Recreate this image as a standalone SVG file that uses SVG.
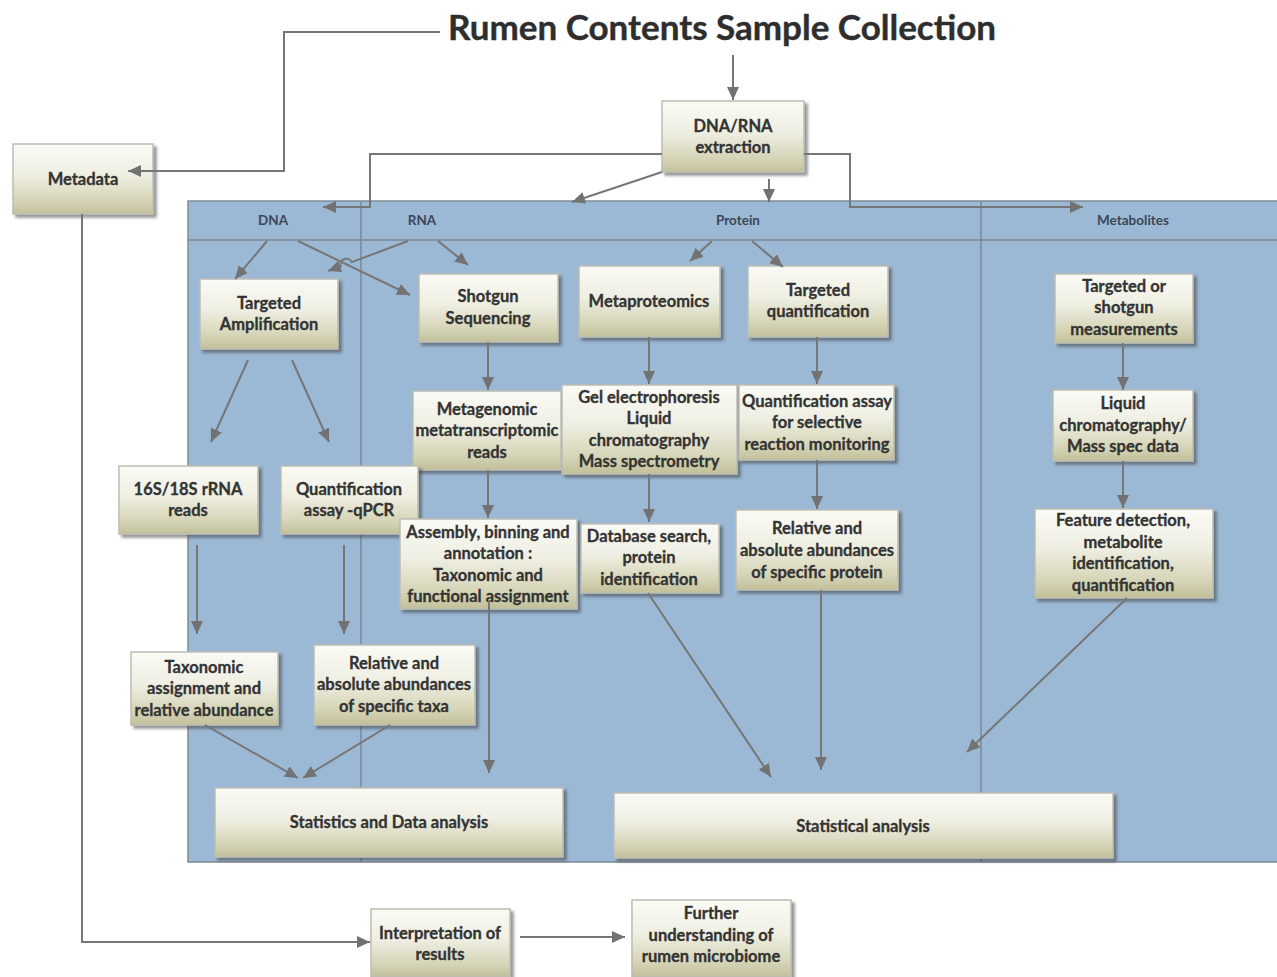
<svg xmlns="http://www.w3.org/2000/svg" width="1277" height="977" viewBox="0 0 1277 977">
  <defs>
    <linearGradient id="boxFill" x1="0" y1="0" x2="0" y2="1">
      <stop offset="0" stop-color="#fbfbf6"/>
      <stop offset="0.45" stop-color="#eeeee2"/>
      <stop offset="0.8" stop-color="#d6d5b8"/>
      <stop offset="1" stop-color="#c2c09a"/>
    </linearGradient>
    <filter id="shadow" x="-10%" y="-10%" width="125%" height="135%">
      <feDropShadow dx="3" dy="3" stdDeviation="1.8" flood-color="#3a3a3a" flood-opacity="0.55"/>
    </filter>
    <marker id="arrow" markerUnits="userSpaceOnUse" markerWidth="14" markerHeight="12" refX="13" refY="6" orient="auto">
      <path d="M0,0 L13,6 L0,12 z" fill="#727272"/>
    </marker>
  </defs>
  <style>
    .box { fill: url(#boxFill); stroke: #bdbdb4; stroke-width: 1.5; filter: url(#shadow); }
    .label { font-family: Lato, "Open Sans", sans-serif; font-weight: bold; font-size: 16.5px; fill: #333333; stroke: #333333; stroke-width: 0.3; text-anchor: middle; }
    .lane { font-family: Lato, "Open Sans", sans-serif; font-weight: bold; font-size: 13.5px; fill: #3b4756; text-anchor: middle; }
    .title { font-family: Lato, "Open Sans", sans-serif; font-weight: bold; font-size: 35px; fill: #2e2e2e; stroke: #2e2e2e; stroke-width: 0.4; text-anchor: middle; }
    .conn { fill: none; stroke: #767676; stroke-width: 2; }
    .arr { marker-end: url(#arrow); }
    .grid { stroke: #7c8894; stroke-width: 1.5; fill: none; }
  </style>

  <rect width="1277" height="977" fill="#ffffff"/>

  <!-- Title -->
  <text class="title" x="722" y="40">Rumen Contents Sample Collection</text>

  <!-- Omics lanes -->
  <g id="lanes">
    <rect x="188" y="201" width="1090" height="661" fill="#9bb8d4" stroke="#7f8a96" stroke-width="1.5"/>
    <line class="grid" x1="188" y1="240" x2="1277" y2="240"/>
    <line class="grid" x1="361" y1="201" x2="361" y2="862"/>
    <line class="grid" x1="981" y1="201" x2="981" y2="862"/>
    <text class="lane" x="273" y="225">DNA</text>
    <text class="lane" x="422" y="225">RNA</text>
    <text class="lane" x="738" y="225">Protein</text>
    <text class="lane" x="1133" y="225">Metabolites</text>
  </g>

  <!-- Nodes -->
  <g id="metadata">
    <rect class="box" x="13" y="144" width="140" height="70"/>
    <text class="label" x="83" y="185">Metadata</text>
  </g>
  <g id="extraction">
    <rect class="box" x="662" y="101" width="142" height="71"/>
    <text class="label" x="733" y="132">DNA/RNA</text>
    <text class="label" x="733" y="153">extraction</text>
  </g>
  <g id="targeted-amplification">
    <rect class="box" x="200" y="279" width="138" height="70"/>
    <text class="label" x="269" y="309">Targeted</text>
    <text class="label" x="269" y="330">Amplification</text>
  </g>
  <g id="shotgun-sequencing">
    <rect class="box" x="419" y="274" width="139" height="68"/>
    <text class="label" x="488" y="302">Shotgun</text>
    <text class="label" x="488" y="324">Sequencing</text>
  </g>
  <g id="metaproteomics">
    <rect class="box" x="579" y="266" width="141" height="71"/>
    <text class="label" x="649" y="307">Metaproteomics</text>
  </g>
  <g id="targeted-quantification">
    <rect class="box" x="748" y="266" width="140" height="71"/>
    <text class="label" x="818" y="296">Targeted</text>
    <text class="label" x="818" y="317">quantification</text>
  </g>
  <g id="metabolite-measurements">
    <rect class="box" x="1055" y="274" width="138" height="69"/>
    <text class="label" x="1124" y="292">Targeted or</text>
    <text class="label" x="1124" y="313">shotgun</text>
    <text class="label" x="1124" y="335">measurements</text>
  </g>
  <g id="sequence-reads">
    <rect class="box" x="413" y="391" width="148" height="79"/>
    <text class="label" x="487" y="415">Metagenomic</text>
    <text class="label" x="487" y="436">metatranscriptomic</text>
    <text class="label" x="487" y="458">reads</text>
  </g>
  <g id="protein-separation">
    <rect class="box" x="562" y="385" width="175" height="89"/>
    <text class="label" x="649" y="403">Gel electrophoresis</text>
    <text class="label" x="649" y="424">Liquid</text>
    <text class="label" x="649" y="446">chromatography</text>
    <text class="label" x="649" y="467">Mass spectrometry</text>
  </g>
  <g id="srm-assay">
    <rect class="box" x="739" y="385" width="155" height="75"/>
    <text class="label" x="817" y="407">Quantification assay</text>
    <text class="label" x="817" y="428">for selective</text>
    <text class="label" x="817" y="450">reaction monitoring</text>
  </g>
  <g id="lc-ms-data">
    <rect class="box" x="1053" y="390" width="140" height="71"/>
    <text class="label" x="1123" y="409">Liquid</text>
    <text class="label" x="1123" y="431">chromatography/</text>
    <text class="label" x="1123" y="452">Mass spec data</text>
  </g>
  <g id="rrna-reads">
    <rect class="box" x="119" y="466" width="139" height="68"/>
    <text class="label" x="188" y="495">16S/18S rRNA</text>
    <text class="label" x="188" y="516">reads</text>
  </g>
  <g id="qpcr">
    <rect class="box" x="281" y="466" width="137" height="68"/>
    <text class="label" x="349" y="495">Quantification</text>
    <text class="label" x="349" y="516">assay -qPCR</text>
  </g>
  <g id="assembly">
    <rect class="box" x="400" y="519" width="177" height="90"/>
    <text class="label" x="488" y="538">Assembly, binning and</text>
    <text class="label" x="488" y="559">annotation :</text>
    <text class="label" x="488" y="581">Taxonomic and</text>
    <text class="label" x="488" y="602">functional assignment</text>
  </g>
  <g id="database-search">
    <rect class="box" x="581" y="524" width="138" height="69"/>
    <text class="label" x="649" y="542">Database search,</text>
    <text class="label" x="649" y="563">protein</text>
    <text class="label" x="649" y="585">identification</text>
  </g>
  <g id="protein-abundance">
    <rect class="box" x="736" y="510" width="162" height="80"/>
    <text class="label" x="817" y="534">Relative and</text>
    <text class="label" x="817" y="556">absolute abundances</text>
    <text class="label" x="817" y="578">of specific protein</text>
  </g>
  <g id="feature-detection">
    <rect class="box" x="1035" y="509" width="178" height="89"/>
    <text class="label" x="1123" y="526">Feature detection,</text>
    <text class="label" x="1123" y="548">metabolite</text>
    <text class="label" x="1123" y="569">identification,</text>
    <text class="label" x="1123" y="591">quantification</text>
  </g>
  <g id="taxonomic-assignment">
    <rect class="box" x="131" y="652" width="147" height="73"/>
    <text class="label" x="204" y="673">Taxonomic</text>
    <text class="label" x="204" y="694">assignment and</text>
    <text class="label" x="204" y="716">relative abundance</text>
  </g>
  <g id="taxa-abundance">
    <rect class="box" x="314" y="645" width="161" height="80"/>
    <text class="label" x="394" y="669">Relative and</text>
    <text class="label" x="394" y="690">absolute abundances</text>
    <text class="label" x="394" y="712">of specific taxa</text>
  </g>
  <g id="statistics-data-analysis">
    <rect class="box" x="215" y="788" width="348" height="69"/>
    <text class="label" x="389" y="828">Statistics and Data analysis</text>
  </g>
  <g id="statistical-analysis">
    <rect class="box" x="614" y="793" width="499" height="65"/>
    <text class="label" x="863" y="832">Statistical analysis</text>
  </g>
  <g id="interpretation">
    <rect class="box" x="371" y="909" width="139" height="68"/>
    <text class="label" x="440" y="939">Interpretation of</text>
    <text class="label" x="440" y="960">results</text>
  </g>
  <g id="further-understanding">
    <rect class="box" x="632" y="900" width="159" height="77"/>
    <text class="label" x="711" y="919">Further</text>
    <text class="label" x="711" y="941">understanding of</text>
    <text class="label" x="711" y="962">rumen microbiome</text>
  </g>

  <!-- Connectors (drawn over the boxes) -->
  <g id="connectors">
    <path class="conn arr" d="M440,32 H284 V171 H128"/>
    <path class="conn arr" d="M733,55 V100"/>
    <path class="conn arr" d="M662,154 H370 V207 H323"/>
    <path class="conn arr" d="M662,172 L572,202"/>
    <path class="conn arr" d="M769,179 V202"/>
    <path class="conn arr" d="M804,154 H850 V207 H1083"/>

    <path class="conn arr" d="M267,241 L235,279"/>
    <path class="conn arr" d="M298,241 L410,295"/>
    <path class="conn arr" d="M408,241 L351.8,262.1 A6,6 0 0 0 340.6,266.3 L328,271"/>
    <path class="conn arr" d="M438,241 L468,265"/>
    <path class="conn arr" d="M712,241 L690,261"/>
    <path class="conn arr" d="M752,241 L783,267"/>

    <path class="conn arr" d="M248,360 L211,442"/>
    <path class="conn arr" d="M292,360 L329,442"/>
    <path class="conn arr" d="M488,342 V390"/>
    <path class="conn arr" d="M649,337 V384"/>
    <path class="conn arr" d="M817,337 V384"/>
    <path class="conn arr" d="M1123,343 V390"/>

    <path class="conn arr" d="M488,470 V518"/>
    <path class="conn arr" d="M649,474 V522"/>
    <path class="conn arr" d="M817,460 V509"/>
    <path class="conn arr" d="M1123,461 V508"/>

    <path class="conn arr" d="M197,545 V634"/>
    <path class="conn arr" d="M344,545 V634"/>

    <path class="conn arr" d="M205,725 L298,778" stroke-width="1.5"/>
    <path class="conn arr" d="M390,725 L303,778" stroke-width="1.5"/>
    <path class="conn arr" d="M489,600 V773"/>
    <path class="conn arr" d="M648,593 L771,777"/>
    <path class="conn arr" d="M821,590 V770"/>
    <path class="conn arr" d="M1127,598 L967,752"/>

    <path class="conn arr" d="M82,214 V942 H370"/>
    <path class="conn arr" d="M520,937 H625"/>
  </g>
</svg>
